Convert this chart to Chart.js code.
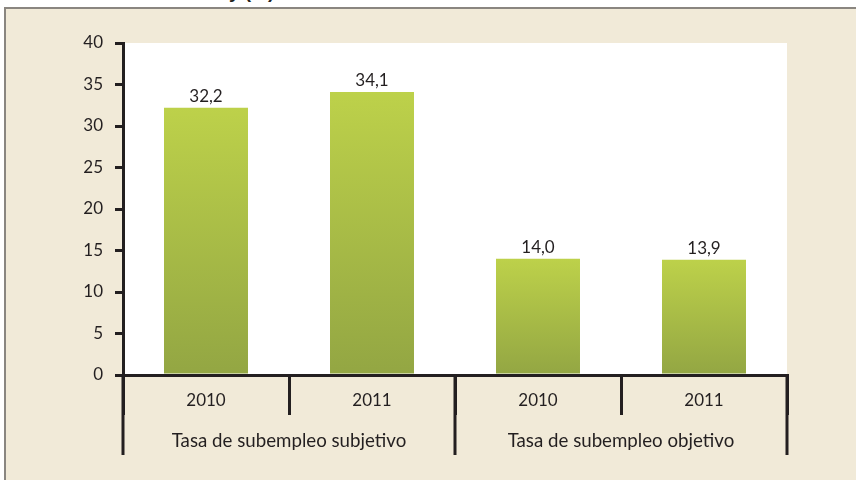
<!DOCTYPE html>
<html>
<head>
<meta charset="utf-8">
<script src="https://cdn.jsdelivr.net/npm/chart.js@4.4.1/dist/chart.umd.min.js"></script>
<style>
  html, body { margin: 0; padding: 0; background: #fff; }
  #wrap { position: relative; width: 856px; height: 480px; overflow: hidden; }
  #frame { position: absolute; left: 4px; top: 7px; width: 860px; height: 480px;
           background: #f1ead8; border-left: 2px solid #8a8680; border-top: 2px solid #8a8680; }
  #title { position: absolute; left: 0; top: 0; width: 856px; height: 7px; overflow: hidden; }
  #title span { position: absolute; left: 229px; top: -19px; line-height: 19px; font: bold 19px "Liberation Sans", Arial, sans-serif; color: #231f20; }
  #myChart { position: absolute; left: 0; top: 0; }
</style>
</head>
<body>
<div id="wrap">
  <div id="frame"></div>
  <div id="title"><span>y (%)</span></div>
  <canvas id="myChart" width="856" height="480"></canvas>
</div>
<script>
// categories: year under each bar, plus the group each pair belongs to
var anios = ['2010', '2011', '2010', '2011'];
var grupos = ['Tasa de subempleo subjetivo', 'Tasa de subempleo objetivo'];
var tasas = [32.2, 34.1, 14.0, 13.9];
var yTicks = [0, 5, 10, 15, 20, 25, 30, 35, 40];

var ink = '#231f20';
var fuente = 'Lato, "Open Sans", sans-serif';

function verde(context) {
    var chart = context.chart;
    if (!chart.chartArea) return '#a8bd47';
    var y = chart.scales.y;
    var top = y.getPixelForValue(context.raw);
    var bottom = y.getPixelForValue(0);
    var g = chart.ctx.createLinearGradient(0, top, 0, bottom);
    g.addColorStop(0, '#bdd14a');
    g.addColorStop(1, '#93a643');
    return g;
}

var fondo = {
    id: 'fondo',
    beforeDraw: function (chart) {
        var a = chart.chartArea;
        var ctx = chart.ctx;
        ctx.save();
        ctx.fillStyle = '#ffffff';
        ctx.fillRect(a.left, a.top, a.right - a.left, a.bottom - a.top);
        ctx.restore();
    }
};

var extras = {
    id: 'extras',
    afterDraw: function (chart) {
        var ctx = chart.ctx;
        var x = chart.scales.x;
        var meta = chart.getDatasetMeta(0);
        var a = chart.chartArea;
        ctx.save();
        // values above bars
        ctx.fillStyle = ink;
        ctx.font = '17px ' + fuente;
        ctx.textAlign = 'center';
        ctx.textBaseline = 'bottom';
        meta.data.forEach(function (bar, i) {
            ctx.fillText(tasas[i].toFixed(1).replace('.', ','), bar.x, bar.y - 3);
        });
        // group separators and group labels
        var half = (x.getPixelForValue(1) - x.getPixelForValue(0)) / 2;
        var per = anios.length / grupos.length;
        ctx.strokeStyle = ink;
        ctx.lineWidth = 3;
        for (var k = 0; k <= grupos.length; k++) {
            var idx = k * per;
            var px = idx < anios.length ? x.getPixelForValue(idx) - half : x.getPixelForValue(anios.length - 1) + half;
            ctx.beginPath();
            ctx.moveTo(px, a.bottom);
            ctx.lineTo(px, a.bottom + 80);
            ctx.stroke();
        }
        ctx.font = '18.7px ' + fuente;
        ctx.textBaseline = 'middle';
        grupos.forEach(function (g, k) {
            var c = (x.getPixelForValue(k * per) + x.getPixelForValue(k * per + per - 1)) / 2;
            ctx.fillText(g, c, a.bottom + 66);
        });
        ctx.restore();
    }
};

var ctx = document.getElementById('myChart');
var grafico = new Chart(ctx, {
    type: 'bar',
    data: {
        labels: anios,
        datasets: [{
            data: tasas,
            backgroundColor: verde,
            borderWidth: 0,
            categoryPercentage: 1,
            barPercentage: 0.506
        }]
    },
    options: {
        responsive: false,
        animation: false,
        devicePixelRatio: 1,
        layout: { padding: { top: 43, right: 69, left: 0, bottom: 0 } },
        plugins: { legend: { display: false }, tooltip: { enabled: false } },
        scales: {
            x: {
                offset: true,
                grid: { display: true, offset: true, drawOnChartArea: false, tickLength: 40, lineWidth: 3, color: ink },
                border: { display: true, width: 3, color: ink },
                ticks: { color: ink, font: { family: fuente, size: 17 }, padding: -25 },
                afterFit: function (s) { s.height = 105; }
            },
            y: {
                min: 0,
                max: 40,
                afterBuildTicks: function (s) { s.ticks = yTicks.map(function (v) { return { value: v }; }); },
                grid: { display: true, drawOnChartArea: false, tickLength: 8, lineWidth: 3, color: ink },
                border: { display: true, width: 3, color: ink },
                ticks: { color: ink, font: { family: fuente, size: 17 }, padding: 12 },
                afterFit: function (s) { s.width = 123; }
            }
        }
    },
    plugins: [fondo, extras]
});
</script>
</body>
</html>
